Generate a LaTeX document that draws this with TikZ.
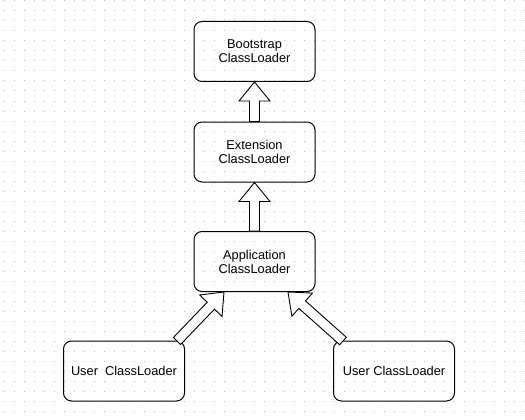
\documentclass[tikz,border=0pt]{standalone}
\usepackage{fontspec}
\setmainfont{Liberation Sans}
\usetikzlibrary{calc}

\tikzset{
  loader/.style={draw, line width=1pt, rounded corners=8pt, minimum width=121pt,
    minimum height=60pt, inner sep=0pt, align=center,
    font=\fontsize{12.8}{14}\selectfont},
  hollow/.style={draw, fill=white, line width=0.9pt, line join=miter},
  griddot/.style={fill=black!25},
}

% Hollow block arrow from #1 to #2
\newcommand{\hollowarrow}[2]{%
  \coordinate (h) at ($(#2)!19pt!(#1)$);
  \draw[hollow] ($(#1)!5pt!90:(#2)$) -- ($(h)!5pt!90:(#2)$)
    -- ($(h)!15.5pt!90:(#2)$) -- (#2) -- ($(h)!15.5pt!-90:(#2)$)
    -- ($(h)!5pt!-90:(#2)$) -- ($(#1)!5pt!-90:(#2)$) -- cycle;
}

\begin{document}
\begin{tikzpicture}[x=1pt, y=-1pt]
  \useasboundingbox (0,0) rectangle (525,420);

  % Dotted grid
  \foreach \gx in {4,14,...,524} {
    \foreach \gy in {1,11,...,411} {
      \fill[griddot] (\gx-0.5,\gy-0.5) rectangle ++(1,1);
    }
  }

  % Class loaders
  \node[loader] (boot) at (254.5,51.5) {Bootstrap\\ClassLoader};
  \node[loader] (ext) at (254.5,152) {Extension\\ClassLoader};
  \node[loader] (app) at (254.5,261.5) {Application\\ClassLoader};
  \node[loader] (userA) at (124,371) {User\ \ ClassLoader};
  \node[loader] (userB) at (394,371) {User ClassLoader};

  % Arrow ends
  \coordinate (tailA) at (177,341);
  \coordinate (tipA) at (224,292);
  \coordinate (tailB) at (343,341);
  \coordinate (tipB) at (288,292);

  \hollowarrow{ext.north}{boot.south}
  \hollowarrow{app.north}{ext.south}
  \hollowarrow{tailA}{tipA}
  \hollowarrow{tailB}{tipB}
\end{tikzpicture}
\end{document}
